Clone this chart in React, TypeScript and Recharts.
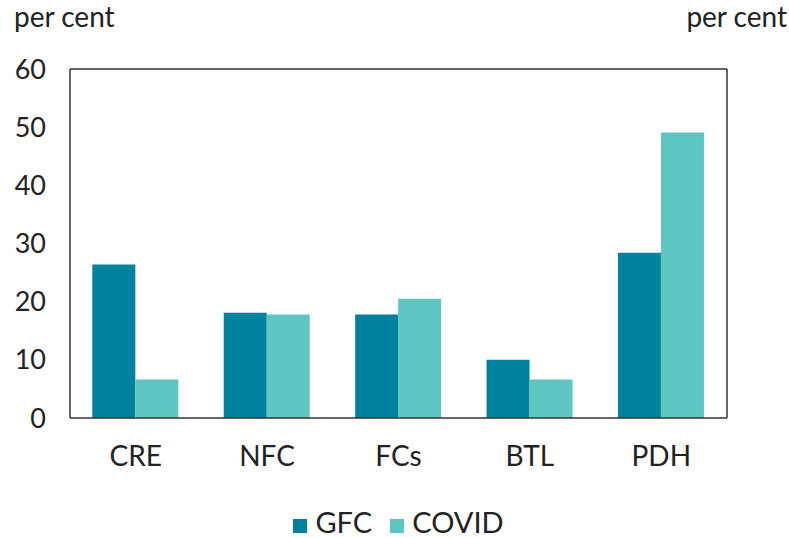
import React from "react";
import { Bar, BarChart, Legend, ReferenceLine, XAxis, YAxis } from "recharts";

const categories = ["CRE", "NFC", "FCs", "BTL", "PDH"];
const gfc = [26.4, 18.1, 17.8, 10.0, 28.4];
const covid = [6.6, 17.8, 20.5, 6.6, 49.1];
const yTicks = [0, 10, 20, 30, 40, 50, 60];
const seriesOrder = ["GFC", "COVID"];

const data = categories.map((name, i) => ({ name, GFC: gfc[i], COVID: covid[i] }));

const font = "Lato, 'Open Sans', sans-serif";
const tickStyle = { fill: "#222", fontSize: 27, fontFamily: font };

export default function App() {
  return (
    <div style={{ position: "absolute", left: 0, top: 0, width: 789, height: 538, background: "#fff", fontFamily: font }}>
      <div style={{ position: "absolute", left: 14, top: 0, fontSize: 28, color: "#222", lineHeight: 1.2 }}>per cent</div>
      <div style={{ position: "absolute", right: 2, top: 0, fontSize: 28, color: "#222", lineHeight: 1.2 }}>per cent</div>
      <BarChart
        width={789}
        height={538}
        data={data}
        margin={{ top: 69, right: 0, bottom: 61, left: 0 }}
        barCategoryGap="17%"
        barGap={0}
      >
        <XAxis
          dataKey="name"
          tick={{ ...tickStyle, fontSize: 28 }}
          tickLine={false}
          tickSize={0}
          tickMargin={28}
          axisLine={{ stroke: "#333", strokeWidth: 1.5 }}
        />
        <YAxis
          yAxisId="left"
          domain={[0, 60]}
          ticks={yTicks}
          width={70}
          tick={tickStyle}
          tickLine={false}
          tickSize={0}
          tickMargin={24}
          axisLine={{ stroke: "#333", strokeWidth: 1.5 }}
        />
        <YAxis
          yAxisId="right"
          orientation="right"
          domain={[0, 60]}
          ticks={yTicks}
          width={62}
          tick={{ ...tickStyle, textAnchor: "start" }}
          tickLine={false}
          tickSize={0}
          tickMargin={26}
          axisLine={{ stroke: "#333", strokeWidth: 1.5 }}
        />
        <ReferenceLine yAxisId="left" y={60} stroke="#333" strokeWidth={1.5} />
        <Legend
          verticalAlign="bottom"
          iconType="square"
          iconSize={14}
          itemSorter={(item: any) => seriesOrder.indexOf(item.dataKey)}
          wrapperStyle={{ top: 507, left: 26, width: 763, fontSize: 29, lineHeight: 1, fontFamily: font }}
          formatter={(v) => <span style={{ color: "#222", marginLeft: 4, marginRight: 8 }}>{v}</span>}
        />
        <Bar yAxisId="left" dataKey="GFC" fill="#00819f" isAnimationActive={false} />
        <Bar yAxisId="left" dataKey="COVID" fill="#5fc5c1" isAnimationActive={false} />
      </BarChart>
    </div>
  );
}
